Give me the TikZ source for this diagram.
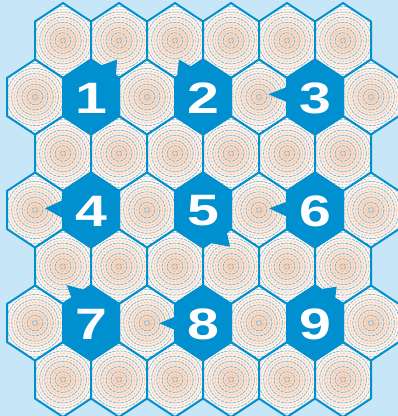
\documentclass[tikz,border=0pt]{standalone}
\usepackage{fontspec}
\setmainfont{Liberation Sans}
\usepackage{xcolor}
\usepackage{graphicx}
\usepackage{tikz}
\usetikzlibrary{shadings}
\definecolor{skyback}{RGB}{199,231,248}
\definecolor{cellblue}{RGB}{0,144,208}
\definecolor{ringblue}{RGB}{105,182,222}
\definecolor{ringpeach}{RGB}{238,180,145}
\definecolor{cellcore}{RGB}{248,208,180}
\tikzstyle{cellline} = [draw=cellblue, line width=2pt, line join=miter]
\tikzstyle{ringb}    = [draw=ringblue, line width=0.7pt, dash pattern=on 3pt off 1pt]
\tikzstyle{ringp}    = [draw=ringpeach, line width=0.6pt, dash pattern=on 2pt off 1.5pt]
\tikzstyle{numcell}  = [fill=cellblue, draw=cellblue, line width=2pt, line join=miter]
\tikzstyle{numlabel} = [text=white, inner sep=0pt,
                        font=\fontsize{44}{44}\selectfont\bfseries]
\newcommand{\hexat}[2]{(#1,#2-37.5) -- (#1+28,#2-19) -- (#1+28,#2+19)
  -- (#1,#2+37.5) -- (#1-28,#2+19) -- (#1-28,#2-19) -- cycle}
\newcommand{\plaincell}[2]{%
  \begin{scope}
    \clip \hexat{#1}{#2};
    \fill[white] \hexat{#1}{#2};
    \shade[inner color=cellcore, outer color=white] (#1,#2) circle (36);
    \foreach \r in {2.6,7.8,...,38} {\draw[ringb] (#1,#2) circle (\r);}
    \foreach \r in {5.2,10.4,...,36} {\draw[ringp] (#1,#2) circle (\r);}
  \end{scope}
  \draw[cellline] \hexat{#1}{#2};}

\begin{document}
\begin{tikzpicture}[x=1pt, y=-1pt]

    % ── Background ──────────────────────────────────────────────────────────
    \useasboundingbox (0,0) rectangle (398,416);
    \fill[skyback] (0,0) rectangle (398,416);

    % ── Plain cells ─────────────────────────────────────────────────────────
    \foreach \r in {0,2,4,6} {
        \foreach \c in {0,...,5} {
            \pgfmathsetmacro{\hx}{63+56*\c}
            \pgfmathsetmacro{\hy}{40.5+56.5*\r}
            \plaincell{\hx}{\hy}
        }
    }
    \foreach \r in {1,3,5} {
        \foreach \c in {0,2,4,6} {
            \pgfmathsetmacro{\hx}{35+56*\c}
            \pgfmathsetmacro{\hy}{40.5+56.5*\r}
            \plaincell{\hx}{\hy}
        }
    }

    % ── Numbered cells with their pointers ─────────────────────────────────
    \foreach \n/\cx/\cy/\tx/\ty/\ax/\ay/\bx/\by in {
        1/91/97/117/59.5/100/66/116/76,
        2/203/97/179/59.5/177/76.7/192/67,
        3/315/97/268.3/94.3/287/87/287/102,
        4/91/210/45/208.3/63/200/63/218.3,
        5/203/210/230/246.7/226.7/231.7/211.7/243.3,
        6/315/210/269.3/208.3/287/201.7/287/216.7,
        7/91/323/66.7/285/85/290/71.7/298.3,
        8/203/323/159.3/323.3/175/316.7/175/330,
        9/315/323/336.7/286.7/320/289.3/335/299.3} {
        \fill[cellblue] (\tx,\ty) -- (\ax,\ay) -- (\cx,\cy) -- (\bx,\by) -- cycle;
        \draw[numcell] \hexat{\cx}{\cy};
        \node (num\n) [numlabel] at (\cx,\cy+1) {\scalebox{1.3}[1]{\n}};
    }

\end{tikzpicture}
\end{document}
